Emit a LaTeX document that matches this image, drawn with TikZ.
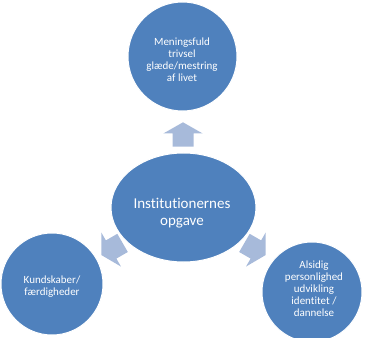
\documentclass[tikz,border=0pt]{standalone}
\usepackage{fontspec}
\setmainfont{Carlito}[Ligatures=CommonOff]
\usetikzlibrary{shapes.geometric}
\definecolor{circfill}{RGB}{79,129,189}
\definecolor{arrfill}{RGB}{167,186,218}
\begin{document}
\begin{tikzpicture}[x=1bp,y=1bp,
  bubble/.style={circle, fill=circfill, draw=white, line width=1bp, inner sep=0pt},
  lbl/.style={text=white, align=center, font=\fontsize{11bp}{12bp}\selectfont, inner sep=0pt},
  biglbl/.style={text=white, align=center, font=\fontsize{15bp}{17bp}\selectfont, inner sep=0pt},
  pics/blockarrow/.style={code={\fill[arrfill] (-12.2,-10.5) -- (1,-10.5) -- (1,-19.7) -- (12.2,0) -- (1,19.7) -- (1,10.5) -- (-12.2,10.5) -- cycle;}}]
\useasboundingbox (0,0) rectangle (366,338);
\node[bubble, minimum size=109bp] (top) at (182.5,281.5) {};
\node[ellipse, fill=circfill, draw=white, line width=1bp, minimum width=145bp, minimum height=109bp, inner sep=0pt] (mid) at (183.5,130.5) {};
\node[bubble, minimum size=102bp] (left) at (52,54) {};
\node[bubble, minimum size=100bp] (right) at (312,46) {};
\node[lbl] (toptxt) at (182,278.5) {Meningsfuld\\trivsel\\glæde/mestring\\af livet};
\node[biglbl] (midtxt) at (182,124.5) {Institutionernes\\opgave};
\node[lbl] (lefttxt) at (52,51) {Kundskaber/\\færdigheder};
\node[lbl] (righttxt) at (314,49.7) {Alsidig\\personlighed\\udvikling\\identitet /\\dannelse};
\pic[rotate=90] (arrUp) at (183,203.5) {blockarrow};
\pic[rotate=210] (arrLeft) at (112,89) {blockarrow};
\pic[rotate=-30] (arrRight) at (255,89) {blockarrow};
\end{tikzpicture}
\end{document}
